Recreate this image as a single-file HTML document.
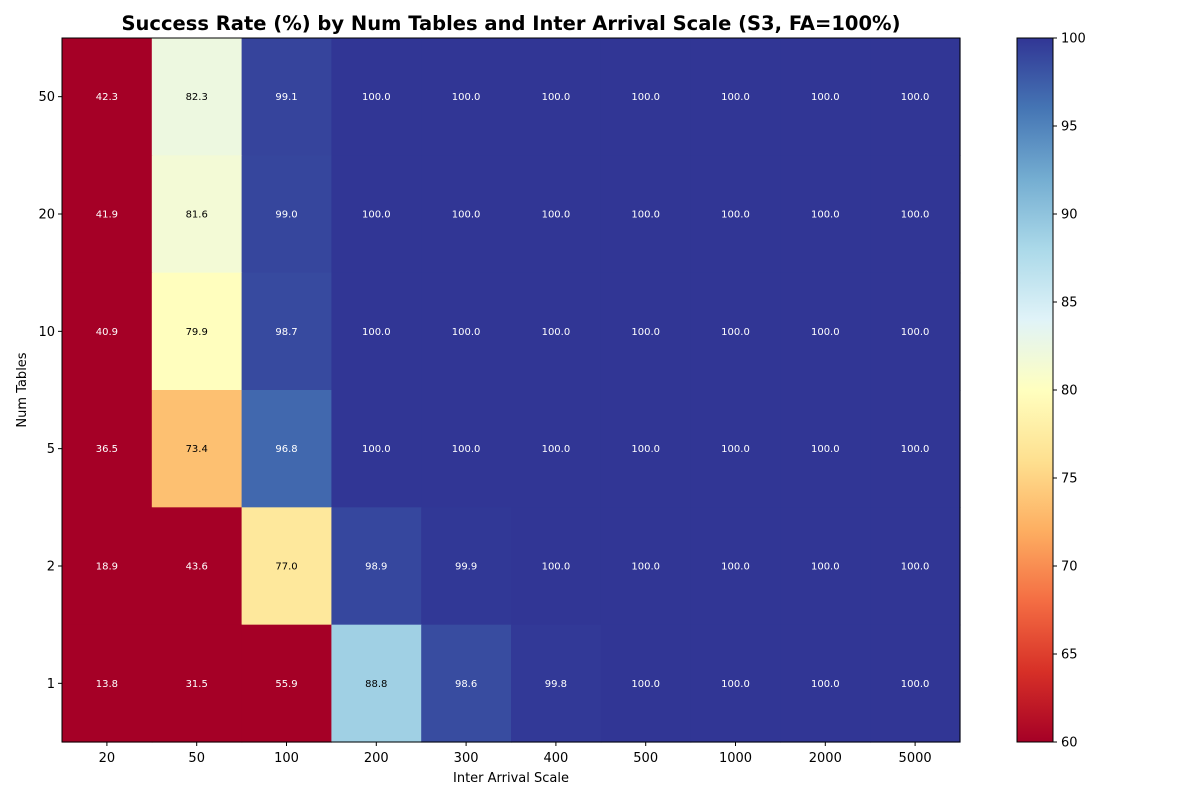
<!DOCTYPE html>
<html><head><meta charset="utf-8"><style>body{margin:0;background:#fff}svg{display:block}text{font-family:"DejaVu Sans","Liberation Sans",sans-serif}</style></head>
<body>
<svg width="1200" height="800" xmlns="http://www.w3.org/2000/svg">
<defs>
<linearGradient id="cb" x1="0" y1="1" x2="0" y2="0">
<stop offset="0" stop-color="#a50026"/><stop offset="0.1" stop-color="#d73027"/><stop offset="0.2" stop-color="#f46d43"/><stop offset="0.3" stop-color="#fdae61"/><stop offset="0.4" stop-color="#fee090"/><stop offset="0.5" stop-color="#ffffbf"/><stop offset="0.6" stop-color="#e0f3f8"/><stop offset="0.7" stop-color="#abd9e9"/><stop offset="0.8" stop-color="#74add1"/><stop offset="0.9" stop-color="#4575b4"/><stop offset="1" stop-color="#313695"/>
</linearGradient>
</defs>
<text x="511" y="30" text-anchor="middle" font-size="19.5" font-weight="bold">Success Rate (%) by Num Tables and Inter Arrival Scale (S3, FA=100%)</text>
<g id="cells"></g>
<rect x="62" y="38" width="898" height="704" fill="none" stroke="#000" stroke-width="1"/>
<g font-size="13" text-anchor="middle" id="xt"></g>
<g font-size="13" text-anchor="end" id="yt"></g>
<text x="511" y="782" text-anchor="middle" font-size="13">Inter Arrival Scale</text>
<text transform="translate(26,390) rotate(-90)" text-anchor="middle" font-size="13">Num Tables</text>
<rect x="1017" y="38" width="36" height="704" fill="url(#cb)" stroke="#000" stroke-width="1"/>
<g font-size="13" id="ct"></g>
</svg>
<script>
const data=[[42.3,82.3,99.1,100,100,100,100,100,100,100],[41.9,81.6,99.0,100,100,100,100,100,100,100],[40.9,79.9,98.7,100,100,100,100,100,100,100],[36.5,73.4,96.8,100,100,100,100,100,100,100],[18.9,43.6,77.0,98.9,99.9,100,100,100,100,100],[13.8,31.5,55.9,88.8,98.6,99.8,100,100,100,100]];
const stops=["#a50026","#d73027","#f46d43","#fdae61","#fee090","#ffffbf","#e0f3f8","#abd9e9","#74add1","#4575b4","#313695"].map(h=>[1,3,5].map(i=>parseInt(h.substr(i,2),16)));
function col(v){let t=Math.max(0,Math.min(1,(v-60)/40))*10;let i=Math.min(9,Math.floor(t)),f=t-i;const c=stops[i].map((a,k)=>Math.round(a+(stops[i+1][k]-a)*f));return `rgb(${c})`;}
const NS="http://www.w3.org/2000/svg";
function el(p,n,a,txt){const e=document.createElementNS(NS,n);for(const k in a)e.setAttribute(k,a[k]);if(txt!==undefined)e.textContent=txt;document.getElementById(p).appendChild(e);}
const cw=89.8,ch=704/6;
const ylab=["50","20","10","5","2","1"],xlab=["20","50","100","200","300","400","500","1000","2000","5000"];
data.forEach((r,i)=>r.forEach((v,j)=>{const x=62+j*cw,y=38+i*ch;
el("cells","rect",{x:x,y:y,width:cw+0.6,height:ch+0.6,fill:col(v)});
const dark=v>70&&v<92;
el("cells","text",{x:x+cw/2,y:y+ch/2+3.5,"text-anchor":"middle","font-size":"10",fill:dark?"#000":"#fff"},v.toFixed(1));}));
xlab.forEach((l,j)=>{const x=62+j*cw+cw/2;el("xt","line",{x1:x,x2:x,y1:742,y2:746,stroke:"#000"});el("xt","text",{x:x,y:762},l);});
ylab.forEach((l,i)=>{const y=38+i*ch+ch/2;el("yt","line",{x1:58,x2:62,y1:y,y2:y,stroke:"#000"});el("yt","text",{x:55,y:y+4.5},l);});
for(let v=60;v<=100;v+=5){const y=742-(v-60)/40*704;el("ct","line",{x1:1053,x2:1057,y1:y,y2:y,stroke:"#000"});el("ct","text",{x:1061,y:y+4.5},String(v));}
</script>
</body></html>
